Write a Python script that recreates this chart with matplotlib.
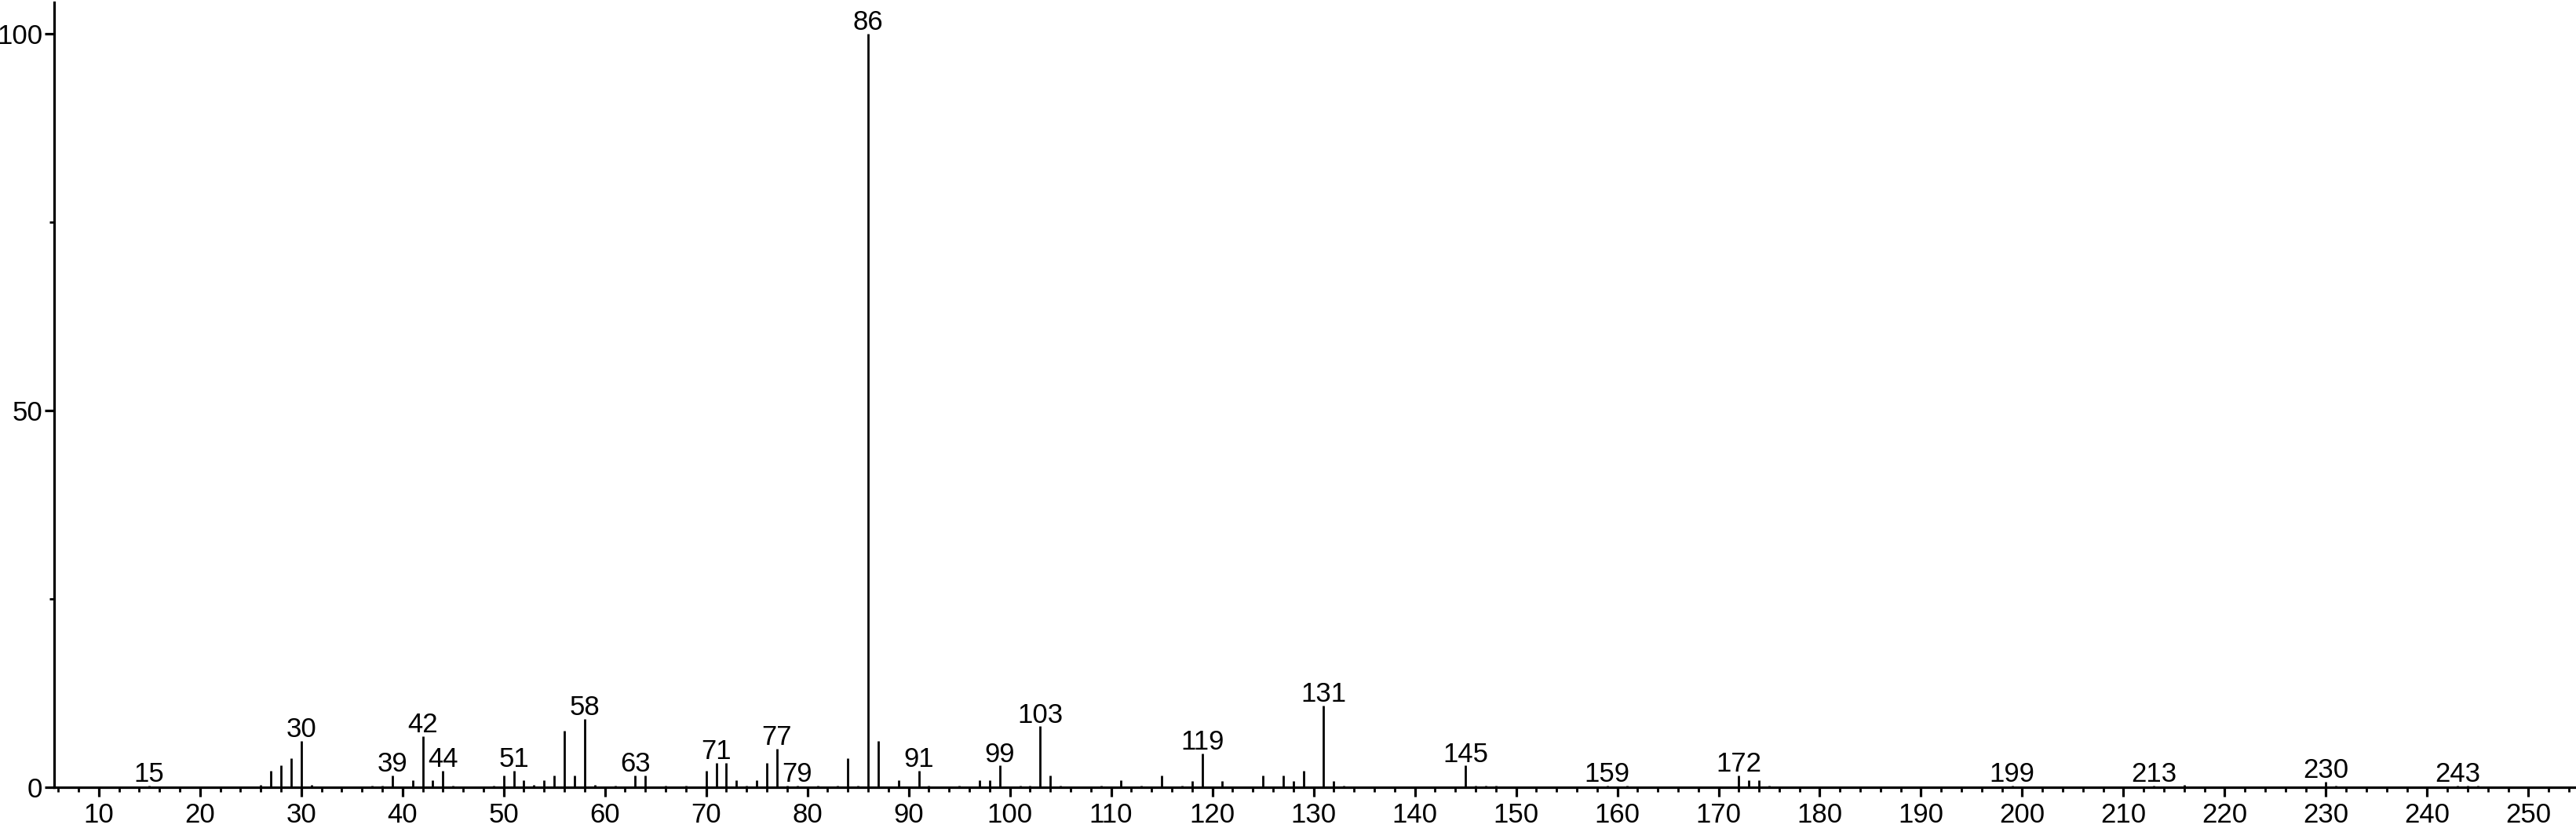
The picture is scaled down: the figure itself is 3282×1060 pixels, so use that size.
import matplotlib
matplotlib.use("Agg")
import matplotlib.pyplot as plt
from matplotlib.ticker import MultipleLocator, FixedLocator

# ---- data (m/z, relative intensity %) ----
mz = [15, 26, 27, 28, 29, 30, 31, 37, 38, 39, 41, 42, 43, 44, 45, 49, 50, 51, 52,
      53, 54, 55, 56, 57, 58, 59, 61, 63, 64, 66, 68, 70, 71, 72, 73, 74, 75, 76,
      77, 78, 79, 81, 83, 84, 85, 86, 87, 89, 91, 92, 95, 97, 98, 99, 101, 102,
      103, 104, 105, 109, 111, 113, 115, 117, 118, 119, 121, 125, 127, 128, 129,
      131, 132, 133, 145, 146, 147, 148, 159, 161, 172, 173, 174, 175, 199, 213,
      216, 230, 231, 243, 244, 245]
intensity = [0.25, 0.3, 2.26, 2.95, 3.9, 6.15, 0.3, 0.25, 0.25, 1.63, 0.97, 6.84,
             0.97, 2.26, 0.25, 0.25, 1.63, 2.26, 0.97, 0.3, 0.97, 1.63, 7.5, 1.63,
             9.1, 0.3, 0.25, 1.63, 1.63, 0.25, 0.25, 2.26, 3.23, 3.23, 0.97, 0.25,
             0.97, 3.23, 5.14, 0.25, 0.25, 0.25, 0.25, 3.9, 0.25, 100.0, 6.15, 0.97,
             2.26, 0.25, 0.25, 0.97, 0.97, 2.9, 0.25, 0.25, 8.1, 1.63, 0.25, 0.25,
             0.97, 0.25, 1.6, 0.25, 0.9, 4.5, 0.9, 1.6, 1.6, 0.9, 2.2, 10.9, 0.9,
             0.25, 2.9, 0.25, 0.25, 0.25, 0.25, 0.25, 1.6, 0.97, 0.97, 0.25, 0.25,
             0.25, 0.3, 0.8, 0.25, 0.25, 0.25, 0.25]
labeled_mz = [15, 30, 39, 42, 44, 51, 58, 63, 71, 77, 79, 86, 91, 99, 103, 119,
              131, 145, 159, 172, 199, 213, 230, 243]
x_ticks = list(range(10, 251, 10))
y_ticks = [0, 50, 100]

plt.rcParams['font.family'] = ['Liberation Sans Narrow', 'Liberation Sans', 'DejaVu Sans']

W, H = 3282, 1060
fig = plt.figure(figsize=(W / 100, H / 100), dpi=100)
left = 69 / W
bottom = (H - 1003.3) / H
top = (H - 3.3) / H
ax = fig.add_axes([left, bottom, 1.0 - left, top - bottom])

ax.vlines(mz, 0, intensity, colors='black', linewidth=2.0)

peak_map = dict(zip(mz, intensity))
for m in labeled_mz:
    ax.annotate(str(m), xy=(m, peak_map.get(m, 0)), xytext=(0, 3.5),
                textcoords='offset points', ha='center', va='baseline',
                fontsize=25, color='black')

ax.set_xlim(5.6, 254.7)
ax.set_ylim(0, 104.1)

for s in ['top', 'right']:
    ax.spines[s].set_visible(False)
for s in ['left', 'bottom']:
    ax.spines[s].set_linewidth(2.3)
    ax.spines[s].set_color('black')

ax.xaxis.set_major_locator(FixedLocator(x_ticks))
ax.xaxis.set_minor_locator(MultipleLocator(2))
ax.yaxis.set_major_locator(FixedLocator(y_ticks))
ax.yaxis.set_minor_locator(MultipleLocator(25))
ax.set_xticklabels([str(t) for t in x_ticks])
ax.set_yticklabels([str(t) for t in y_ticks])

ax.tick_params(axis='both', which='major', length=8.6, width=2.3,
               labelsize=25, direction='out', color='black')
ax.tick_params(axis='both', which='minor', length=4.3, width=2.0,
               direction='out', color='black')
ax.tick_params(axis='x', which='major', pad=5)
ax.tick_params(axis='y', which='major', pad=2)

fig.savefig('out.png', dpi=100, facecolor='white')
